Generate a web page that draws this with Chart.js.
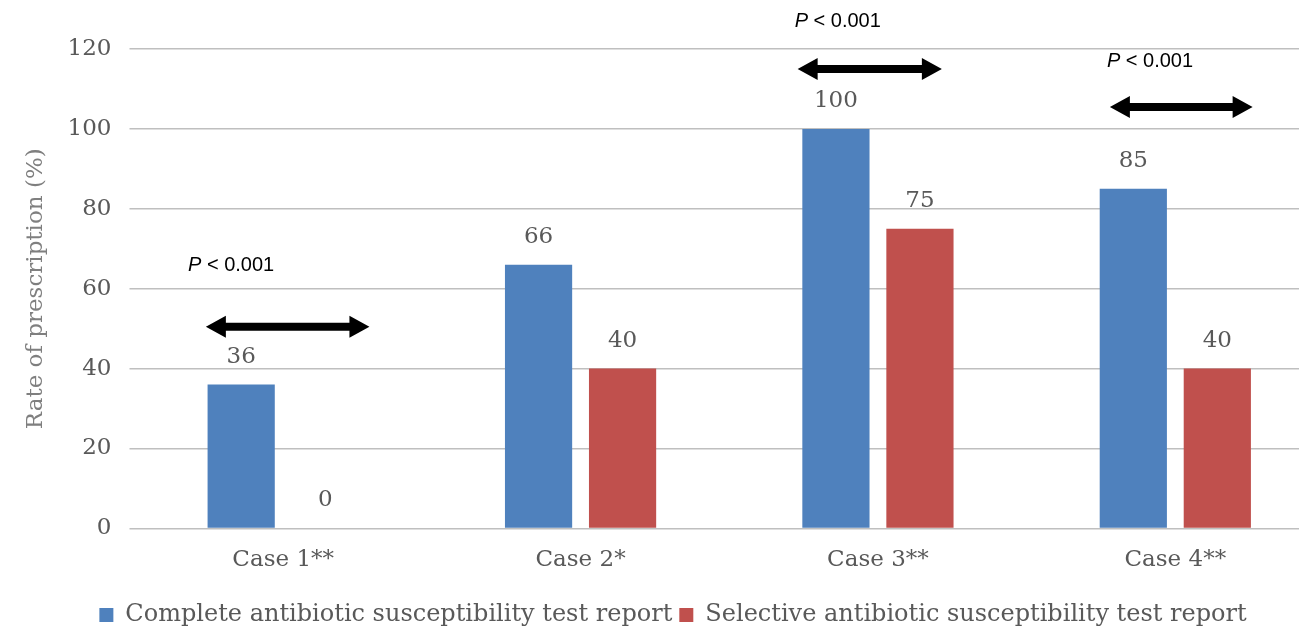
<!DOCTYPE HTML>
<html>
<head>
  <title>Rate of prescription</title>
  <meta charset="utf-8">
  <script src="https://cdn.jsdelivr.net/npm/chart.js"></script>
  <style>
    body { margin: 0; background: #fff; }
    .frame { width: 1299px; height: 632px; overflow: hidden; position: relative; }
    .chart-container { width: 1330px; height: 632px; position: absolute; left: 0; top: 0; }
  </style>
</head>
<body>
  <div class="frame">
    <div class="chart-container">
      <canvas id="rateChart"></canvas>
    </div>
  </div>
  <script type="text/javascript">

    const ctx_rate = document.getElementById('rateChart');

    var xlabels      = ["Case 1**", "Case 2*", "Case 3**", "Case 4**"];
    var yticks       = [0, 20, 40, 60, 80, 100, 120];
    var seriesNames  = ["Complete antibiotic susceptibility test report", "Selective antibiotic susceptibility test report"];
    var yvarComplete = [36, 66, 100, 85];
    var yvarSelective = [0, 40, 75, 40];

    // P-value annotations: category index, arrow from/to (category units), arrow level and text level (y units)
    var pCase     = [0, 2, 3];
    var pText     = ["< 0.001", "< 0.001", "< 0.001"];
    var pArrowX0  = [-0.26, -0.27, -0.22];
    var pArrowX1  = [0.29, 0.215, 0.26];
    var pArrowY   = [50.5, 115, 105.5];
    var pTextX    = [-0.32, -0.28, -0.23];
    var pTextY    = [65.75, 127, 117];

    var chartColors = { blue: '#4f81bd', red: '#c0504d', text: '#595959', grid: '#bfbfbf' };
    var serif = "'DejaVu Serif', serif";

    const valueLabels = {
      id: 'valueLabels',
      afterDatasetsDraw(chart) {
        const c = chart.ctx;
        c.save();
        c.font = "23px " + serif;
        c.fillStyle = chartColors.text;
        c.textAlign = 'center';
        c.textBaseline = 'middle';
        chart.data.datasets.forEach(function (ds, di) {
          chart.getDatasetMeta(di).data.forEach(function (bar, i) {
            c.fillText(String(ds.data[i]), bar.x, bar.y - 28);
          });
        });
        c.restore();
      }
    };

    const pAnnotations = {
      id: 'pAnnotations',
      afterDraw(chart) {
        const c = chart.ctx;
        const xs = chart.scales.x, ys = chart.scales.y;
        c.save();
        for (let k = 0; k < pCase.length; k++) {
          const x0 = xs.getPixelForValue(pCase[k] + pArrowX0[k]);
          const x1 = xs.getPixelForValue(pCase[k] + pArrowX1[k]);
          const y  = ys.getPixelForValue(pArrowY[k]);
          const head = 20, hh = 11, shaft = 4;
          c.fillStyle = '#000';
          c.beginPath();
          c.moveTo(x0, y);
          c.lineTo(x0 + head, y - hh);
          c.lineTo(x0 + head, y - shaft);
          c.lineTo(x1 - head, y - shaft);
          c.lineTo(x1 - head, y - hh);
          c.lineTo(x1, y);
          c.lineTo(x1 - head, y + hh);
          c.lineTo(x1 - head, y + shaft);
          c.lineTo(x0 + head, y + shaft);
          c.lineTo(x0 + head, y + hh);
          c.closePath();
          c.fill();

          const tx = xs.getPixelForValue(pCase[k] + pTextX[k]);
          const ty = ys.getPixelForValue(pTextY[k]);
          c.textBaseline = 'middle';
          c.textAlign = 'left';
          c.font = "italic 20px 'Liberation Sans', sans-serif";
          c.fillText('P', tx, ty);
          const w = c.measureText('P ').width;
          c.font = "20px 'Liberation Sans', sans-serif";
          c.fillText(pText[k], tx + w, ty);
        }
        c.restore();
      }
    };

    var ChartRate = new Chart(ctx_rate, {
      type: 'bar',
      plugins: [valueLabels, pAnnotations],
      options: {
        responsive: true,
        maintainAspectRatio: false,
        animation: false,
        layout: { padding: { top: 49, left: 22, right: 6, bottom: -5 } },
        scales: {
          x: {
            grid: { display: false },
            border: { display: false },
            ticks: { color: chartColors.text, font: { family: serif, size: 23 }, padding: 10 },
            afterFit: function (axis) { axis.height += 12; }
          },
          y: {
            min: 0,
            max: 120,
            afterBuildTicks: function (axis) { axis.ticks = yticks.map(function (v) { return { value: v }; }); },
            grid: { color: chartColors.grid, lineWidth: 1.5, tickLength: 5 },
            border: { display: false },
            ticks: { color: chartColors.text, font: { family: serif, size: 23 }, padding: 18 },
            title: {
              display: true,
              text: 'Rate of prescription (%)',
              color: '#7f7f7f',
              font: { family: serif, size: 23 },
              padding: { top: 0, bottom: 0 }
            }
          }
        },
        plugins: {
          legend: {
            position: 'bottom',
            labels: {
              color: chartColors.text,
              font: { family: serif, size: 24 },
              boxWidth: 14,
              boxHeight: 14,
              padding: 7
            }
          },
          tooltip: { enabled: false }
        }
      },
      data: {
        labels: xlabels,
        datasets: [
          {
            label: seriesNames[0],
            backgroundColor: chartColors.blue,
            data: yvarComplete,
            categoryPercentage: 0.565,
            barPercentage: 0.8
          },
          {
            label: seriesNames[1],
            backgroundColor: chartColors.red,
            data: yvarSelective,
            categoryPercentage: 0.565,
            barPercentage: 0.8
          }
        ]
      }
    });

  </script>
</body>
</html>
